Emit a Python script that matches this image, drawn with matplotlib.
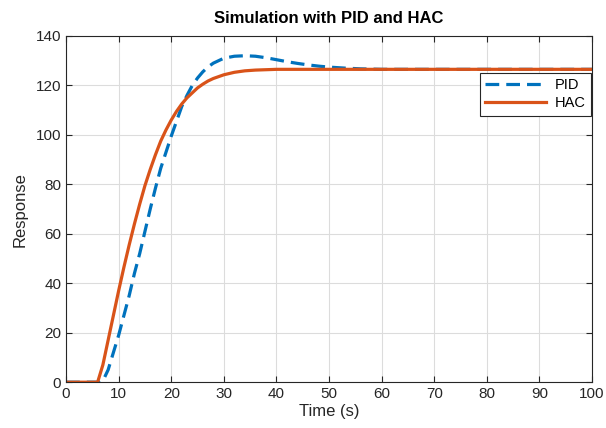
import numpy as np
import matplotlib
matplotlib.use('Agg')
import matplotlib.pyplot as plt

plt.rcParams['font.family'] = ['Liberation Sans', 'DejaVu Sans']

# PID response
pid_t = [0, 6.5, 7, 8, 9, 10, 11, 12, 13, 14, 15, 16, 17, 18, 19, 20, 21, 22, 23, 24,
         25, 26, 27, 28, 30, 32, 34, 36, 38, 40, 42, 44, 46, 48, 50, 53, 56, 60, 100]
pid_y = [0, 0, 0.5, 5, 12, 19, 27, 35, 44, 52, 61, 70, 78.5, 86.5, 93, 99.5, 105.5, 111.5, 116, 120,
         123, 125.5, 127.5, 129, 131, 131.8, 132, 131.8, 131.2, 130.4, 129.6, 128.9, 128.3, 127.8, 127.4, 127, 126.7, 126.5, 126.5]

# HAC response
hac_t = [0, 6, 7, 8, 9, 10, 11, 12, 13, 14, 15, 16, 17, 18, 19, 20, 21, 22, 23, 24,
         25, 26, 27, 28, 30, 32, 34, 36, 40, 100]
hac_y = [0, 0, 7, 17, 27, 37, 46.5, 55.5, 64, 72, 79.5, 86, 92, 97.5, 102, 106, 109.5, 112.5, 115, 117,
         119, 120.5, 121.8, 122.8, 124.3, 125.3, 125.9, 126.2, 126.5, 126.5]

fig = plt.figure(figsize=(6.06, 4.28), dpi=100)
ax = fig.add_axes([0.109, 0.107, 0.868, 0.809])

ax.plot(pid_t, pid_y, '--', color='#0072BD', lw=2.3, dashes=(4.3, 2.2), label='PID')
ax.plot(hac_t, hac_y, '-', color='#D95319', lw=2.3, label='HAC')

ax.set_xlim(0, 100)
ax.set_ylim(0, 140)
ax.set_xticks(np.arange(0, 101, 10))
ax.set_yticks(np.arange(0, 141, 20))
ax.grid(True, color='#dcdcdc', lw=0.8)
ax.set_axisbelow(True)
ax.tick_params(direction='in', labelsize=11, colors='#262626', length=4, top=True, right=True,
               labeltop=False, labelright=False)
for s in ax.spines.values():
    s.set_color('#262626')
    s.set_linewidth(0.8)

ax.set_xlabel('Time (s)', fontsize=12, color='#262626', labelpad=2)
ax.set_ylabel('Response', fontsize=12, color='#262626', labelpad=6)
ax.set_title('Simulation with PID and HAC', fontsize=12, fontweight='bold', pad=9)

leg = ax.legend(loc='upper right', bbox_to_anchor=(0.998, 0.893), borderaxespad=0, fontsize=10.5,
                fancybox=False, edgecolor='#262626', handlelength=4.2, handletextpad=0.6,
                borderpad=0.35, labelspacing=0.3, framealpha=1)
leg.get_frame().set_linewidth(0.8)

fig.savefig('out.png', dpi=100)
